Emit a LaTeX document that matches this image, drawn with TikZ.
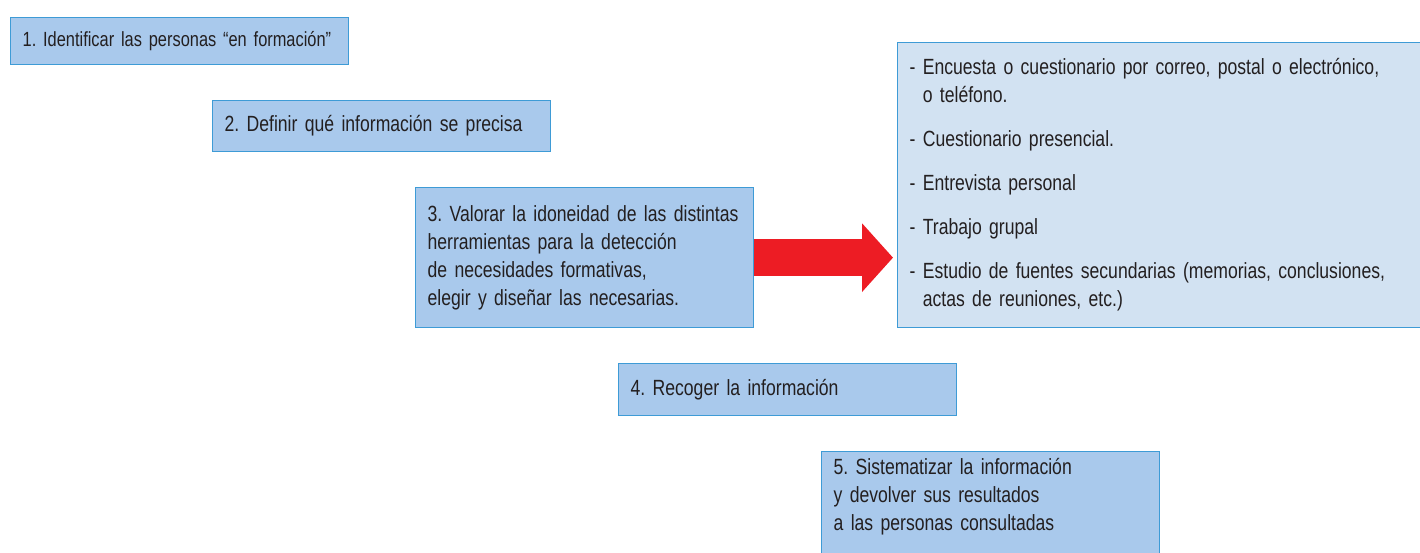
\documentclass[tikz,border=0pt]{standalone}
\usepackage{fontspec}
\setmainfont[FakeStretch=0.80]{Liberation Sans}
\usetikzlibrary{arrows.meta}
\definecolor{boxfill}{RGB}{169,201,236}
\definecolor{boxline}{RGB}{62,155,214}
\definecolor{listfill}{RGB}{210,226,242}
\definecolor{txtgray}{RGB}{35,31,32}
\definecolor{arrowred}{RGB}{237,28,36}
\newcommand{\pasofont}{\fontsize{22}{28}\selectfont\frenchspacing\hyphenpenalty=10000\relax}
\tikzstyle{paso} = [rectangle, anchor=north west, draw=boxline, fill=boxfill, line width=1.3pt, minimum width=338pt, text width=314pt, inner xsep=12pt, align=left, text=txtgray, font=\pasofont]
\tikzstyle{lista} = [paso, fill=listfill, minimum width=560pt, text width=536pt]
\tikzstyle{flecha} = [draw=arrowred, line width=37pt, -{Triangle[length=31pt,width=67pt]}, shorten >=4pt]

\begin{document}
\begin{tikzpicture}[x=1pt, y=-1pt]
    \clip (0,0) rectangle (1420,553);
    \node [paso, minimum height=47pt, font=\pasofont\fontsize{20.5}{28}\selectfont] at (10,17) (paso1) {\mbox{1. Identificar las personas “en formación”}};
    \node [paso, minimum height=51pt] at (212,100) (paso2) {2. Definir qué información se precisa};
    \node [paso, minimum height=140pt] at (415,187) (paso3) {3. Valorar la idoneidad de las distintas\\herramientas para la detección\\de necesidades formativas,\\elegir y diseñar las necesarias.};
    \node [paso, minimum height=52pt] at (618,363) (paso4) {4. Recoger la información};
    \node [paso, inner ysep=7pt] at (821,451) (paso5) {5. Sistematizar la información\\y devolver sus resultados\\a las personas consultadas\\[60pt]\mbox{}};
    \node [lista, minimum height=285pt] at (897,42) (herram) {- Encuesta o cuestionario por correo, postal o electrónico,\\\hphantom{- }o teléfono.\\[16pt]- Cuestionario presencial.\\[16pt]- Entrevista personal\\[16pt]- Trabajo grupal\\[16pt]- Estudio de fuentes secundarias (memorias, conclusiones,\\\hphantom{- }actas de reuniones, etc.)};

    \draw [flecha] (paso3.east) -- (paso3.east -| herram.west);
\end{tikzpicture}
\end{document}
